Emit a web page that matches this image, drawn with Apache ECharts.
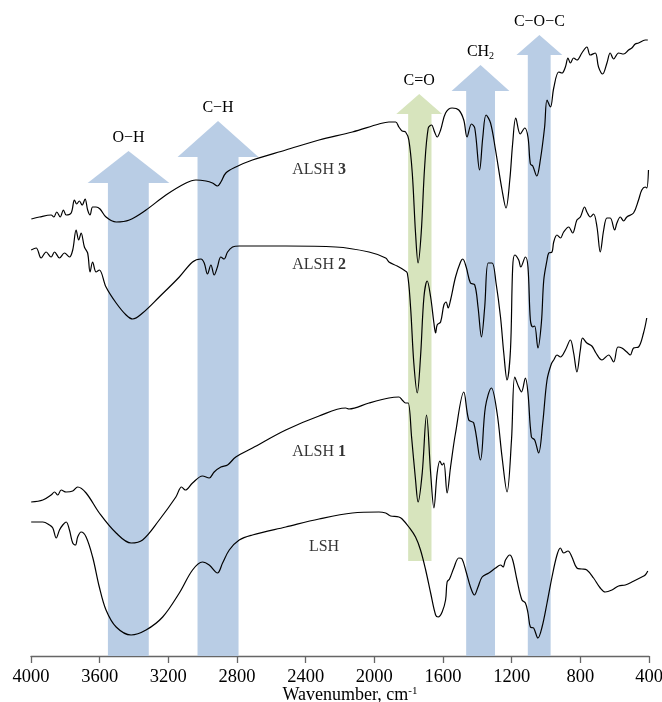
<!DOCTYPE html>
<html><head><meta charset="utf-8">
<script src="https://cdn.jsdelivr.net/npm/echarts@6/dist/echarts.min.js"></script>
<style>html,body{margin:0;padding:0;background:#fff;overflow:hidden}#c{width:662px;height:702px}</style>
</head><body><div id="c"></div>
<script>
// x: wavenumber (cm-1), y: relative transmittance (a.u., curves offset)
const alsh3 = [[3998,438],[3951,440],[3883,442],[3867,440],[3850,445],[3830,440],[3811,447],[3795,442],[3766,444],[3747,457],[3734,453],[3718,456],[3702,452],[3685,458],[3670,447],[3656,442],[3641,450],[3621,450],[3598,448],[3563,440],[3504,435],[3427,437],[3330,447],[3214,462],[3097,474],[3039,477],[2981,476],[2943,474],[2914,471],[2894,475],[2865,484],[2807,490],[2710,497],[2516,507],[2322,517],[2128,525],[1973,533],[1915,535],[1876,535],[1857,530],[1838,526],[1818,525],[1799,517],[1779,484],[1760,424],[1745,394],[1727,424],[1707,490],[1686,529],[1667,532],[1649,525],[1634,520],[1614,527],[1585,544],[1547,549],[1508,547],[1479,537],[1460,520],[1434,533],[1415,529],[1387,487],[1368,520],[1349,542],[1323,534],[1294,507],[1256,467],[1233,449],[1211,477],[1194,514],[1176,539],[1150,523],[1124,529],[1105,520],[1091,493],[1077,491],[1054,481],[1033,497],[1008,530],[994,557],[974,550],[955,569],[926,585],[907,584],[887,590],[872,599],[858,594],[839,599],[820,597],[791,604],[762,610],[742,602],[713,604],[694,590],[670,583],[645,594],[626,604],[606,598],[577,604],[548,603],[519,607],[500,609],[480,613],[461,614],[422,617],[407,617]];
const alsh2 = [[3999,407],[3970,409],[3941,399],[3912,405],[3883,400],[3863,405],[3834,399],[3805,404],[3776,400],[3757,407],[3737,427],[3722,417],[3708,424],[3689,410],[3670,404],[3656,385],[3641,395],[3621,385],[3602,387],[3563,370],[3504,354],[3446,342],[3408,338],[3350,344],[3253,360],[3136,380],[3059,395],[3010,398],[2991,394],[2972,383],[2952,392],[2933,382],[2914,390],[2894,400],[2875,398],[2855,405],[2826,410],[2787,411],[2516,411],[2225,410],[2031,405],[1934,399],[1915,395],[1867,391],[1828,387],[1808,384],[1789,350],[1770,294],[1750,264],[1731,300],[1711,360],[1692,376],[1672,360],[1653,334],[1643,324],[1634,332],[1614,335],[1595,352],[1582,355],[1570,349],[1556,357],[1527,380],[1498,395],[1485,398],[1465,390],[1440,374],[1415,372],[1396,350],[1376,320],[1357,350],[1337,394],[1314,394],[1291,374],[1265,340],[1246,304],[1227,277],[1207,307],[1194,390],[1182,402],[1159,397],[1147,390],[1120,400],[1105,390],[1091,337],[1077,330],[1066,331],[1047,309],[1027,334],[1013,377],[994,397],[984,404],[965,405],[955,415],[936,422],[916,419],[897,425],[868,430],[845,424],[820,437],[800,440],[775,450],[762,445],[742,440],[723,443],[703,430],[684,405],[664,427],[645,439],[626,439],[600,427],[587,434],[567,440],[548,436],[529,440],[490,444],[461,457],[442,467],[422,470],[413,469],[403,487]];
const alsh1 = [[3999,155],[3931,157],[3883,162],[3863,165],[3844,162],[3824,167],[3795,165],[3757,166],[3728,170],[3679,164],[3602,144],[3504,124],[3417,114],[3350,117],[3253,137],[3156,160],[3123,170],[3101,167],[3059,174],[3001,181],[2962,179],[2933,185],[2894,190],[2855,192],[2807,200],[2710,209],[2516,227],[2322,241],[2167,249],[2148,248],[2031,254],[1915,259],[1857,260],[1838,257],[1818,254],[1803,254],[1783,220],[1760,177],[1745,155],[1721,184],[1696,242],[1672,184],[1653,149],[1634,184],[1618,196],[1605,192],[1595,194],[1576,164],[1556,190],[1527,224],[1479,265],[1450,237],[1421,234],[1382,197],[1353,250],[1318,269],[1285,244],[1256,200],[1227,165],[1201,217],[1182,280],[1159,270],[1143,265],[1120,279],[1105,264],[1085,220],[1066,217],[1043,204],[1019,234],[994,277],[969,293],[955,297],[936,302],[916,300],[887,307],[858,317],[839,304],[820,285],[800,307],[787,319],[762,314],[733,311],[709,304],[674,297],[635,302],[606,295],[581,310],[558,309],[529,305],[509,302],[490,309],[461,310],[432,324],[413,339]];
const lsh = [[3999,135],[3931,135],[3892,132],[3873,129],[3853,119],[3834,127],[3815,132],[3795,135],[3776,127],[3757,114],[3741,112],[3728,120],[3708,125],[3679,120],[3641,100],[3602,70],[3563,47],[3504,30],[3417,22],[3330,27],[3233,40],[3136,64],[3059,87],[3001,95],[2962,92],[2914,84],[2884,94],[2845,107],[2787,117],[2710,122],[2516,130],[2322,138],[2128,144],[1973,145],[1934,144],[1915,142],[1905,141],[1857,140],[1838,138],[1799,130],[1760,120],[1731,107],[1701,87],[1672,64],[1643,42],[1628,40],[1605,45],[1585,57],[1576,75],[1562,78],[1537,89],[1508,99],[1489,98],[1465,85],[1440,70],[1417,62],[1396,70],[1372,80],[1333,84],[1294,89],[1265,92],[1250,90],[1236,97],[1211,102],[1194,97],[1169,77],[1140,57],[1120,54],[1105,44],[1091,30],[1072,29],[1047,19],[1023,30],[994,54],[965,80],[936,102],[916,109],[897,104],[872,106],[849,100],[820,89],[791,88],[762,87],[723,79],[684,69],[655,65],[616,67],[577,71],[538,72],[500,75],[442,80],[422,82],[407,86]];

// curve labels: [wavenumber, y, name, bold suffix]
const curveLabels = [[2322,487,'ALSH ','3'],[2322,392,'ALSH ','2'],[2322,205,'ALSH ','1'],[2293,110,'LSH','']];

// assignment bands: shaft range, head range (cm-1), bottom, head base, tip (a.u.)
const bandNames = ['O−H','C−H','C=O','CH2','C−O−C'];
const bandShaft = [[3552,3314],[3030,2791],[1803,1667],[1465,1297],[1106,973]];
const bandHead  = [[3670,3194],[3146,2675],[1872,1605],[1550,1213],[1172,905]];
const bandLevels = [[1,474,506],[1,500,536],[96,543,563],[1,566,592],[1,602,622]];
const bandKind = ['b','b','g','b','b'];

const xTicks = [4000,3600,3200,2800,2400,2000,1600,1200,800,400];

const FONT = 'Liberation Serif';
const bandData = bandNames.map((n,i)=>[bandShaft[i][0],bandShaft[i][1],bandHead[i][0],bandHead[i][1],bandLevels[i][0],bandLevels[i][1],bandLevels[i][2],i]);
const fills = {b:'#b9cde5', g:'#d7e4bd'};

function renderArrow(params, api){
  const sL=api.value(0), sR=api.value(1), hL=api.value(2), hR=api.value(3);
  const bot=api.value(4), base=api.value(5), tip=api.value(6), i=api.value(7);
  const P=(w,v)=>api.coord([w,v]);
  const mid=(hL+hR)/2;
  const pts=[P(sL,bot),P(sL,base),P(hL,base),P(mid,tip),P(hR,base),P(sR,base),P(sR,bot)];
  const t=P(mid,tip);
  const name=bandNames[i];
  const txt = name==='CH2' ? '{n|CH}{s|2}' : '{n|'+name+'}';
  return {type:'group',children:[
    {type:'polygon',shape:{points:pts},style:{fill:fills[bandKind[i]]}},
    {type:'text',x:t[0],y:t[1]-13,style:{text:txt,align:'center',verticalAlign:'middle',fill:'#000',
      rich:{n:{fontFamily:FONT,fontSize:16,fill:'#000'},s:{fontFamily:FONT,fontSize:10,fill:'#000',padding:[9,0,0,0]}}}}
  ]};
}

const lineSeries = [alsh3,alsh2,alsh1,lsh].map(d=>({
  type:'line',data:d,showSymbol:false,smooth:0.35,z:5,
  lineStyle:{color:'#000',width:1.2},animation:false
}));

const chart = echarts.init(document.getElementById('c'),null,{renderer:'canvas'});
chart.setOption({
  animation:false,
  backgroundColor:'#fff',
  grid:{left:31,right:13,top:0,bottom:46,containLabel:false,outerBoundsMode:'none'},
  xAxis:{type:'value',inverse:true,min:400,max:4000,interval:400,
    axisLine:{lineStyle:{color:'#666',width:1.3}},
    axisTick:{show:true,length:7,lineStyle:{color:'#666',width:1.3}},
    splitLine:{show:false},
    axisLabel:{fontFamily:FONT,fontSize:18.5,color:'#000',margin:12,
      formatter:v=>xTicks.includes(v)?String(v):''},
    name:'Wavenumber, cm{sup|-1}',nameLocation:'middle',nameGap:30,nameMoveOverlap:false,
    nameTextStyle:{fontFamily:FONT,fontSize:18,color:'#000',padding:[0,0,0,20],
      rich:{sup:{fontFamily:FONT,fontSize:11,color:'#000',padding:[0,0,8,0]}}}
  },
  yAxis:{type:'value',min:1,max:657,show:false},
  series:[
    {type:'custom',renderItem:renderArrow,data:bandData,z:1,silent:true,clip:false,
      encode:{x:[0,1,2,3],y:[4,5,6]}},
    ...lineSeries,
    {type:'scatter',symbolSize:0,z:6,silent:true,
      data:curveLabels.map(c=>[c[0],c[1],c[2],c[3]]),
      label:{show:true,position:'inside',color:'#000',
        formatter:p=>'{n|'+p.value[2]+'}'+(p.value[3]?'{b|'+p.value[3]+'}':''),
        rich:{n:{fontFamily:FONT,fontSize:16,color:'#000'},b:{fontFamily:FONT,fontSize:16,fontWeight:'bold',color:'#000'}}}}
  ]
});
</script></body></html>
